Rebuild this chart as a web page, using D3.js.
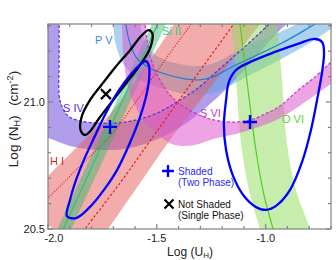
<!DOCTYPE html>
<html><head><meta charset="utf-8">
<script src="https://cdn.jsdelivr.net/npm/d3@7"></script>
<style>body{margin:0;background:#fff;} svg{display:block;font-family:"Liberation Sans",Arial,sans-serif;}</style>
</head><body><svg id="c" width="336" height="260"></svg>
<script>
// ---- data (log U_H, log N_H) ----
const xTickValues = [-2.0, -1.5, -1.0];
const xTickLabels = ["-2.0", "-1.5", "-1.0"];
const yTickValues = [20.5, 21.0];
const yTickLabels = ["20.5", "21.0"];
const xMinor = [-2.0,-1.9,-1.8,-1.7,-1.6,-1.5,-1.4,-1.3,-1.2,-1.1,-1.0,-0.9,-0.8,-0.7];
const yMinor = [20.5,20.6,20.7,20.8,20.9,21.0,21.1,21.2,21.3];

const sivLine = [[-1.949,21.441],[-1.949,21.165],[-1.949,21.028],[-1.940,20.992],[-1.908,20.945],[-1.848,20.925],[-1.770,20.917],[-1.692,20.917],[-1.619,20.925],[-1.531,20.945],[-1.463,20.972],[-1.394,21.008],[-1.311,21.055],[-1.233,21.114],[-1.155,21.173],[-1.072,21.236],[-0.989,21.303],[-0.911,21.370]];
const sivOuter = [[-2.083,21.441],[-2.083,20.874],[-2.0,20.858],[-1.899,20.827],[-1.761,20.811],[-1.623,20.819],[-1.486,20.858],[-1.371,20.913],[-1.256,20.992],[-1.141,21.087],[-1.026,21.197],[-0.934,21.283],[-0.879,21.331],[-0.842,21.441]];

const pvLine = [[-1.651,21.421],[-1.642,21.307],[-1.628,21.244],[-1.596,21.177],[-1.541,21.138],[-1.463,21.110],[-1.371,21.091],[-1.302,21.087],[-1.233,21.102],[-1.164,21.134],[-1.049,21.181],[-0.934,21.228],[-0.842,21.272],[-0.774,21.307],[-0.659,21.370]];
const pvInner = [[-1.587,21.421],[-1.577,21.307],[-1.559,21.252],[-1.531,21.205],[-1.463,21.165],[-1.371,21.146],[-1.302,21.142],[-1.233,21.154],[-1.164,21.185],[-1.049,21.232],[-0.934,21.276],[-0.842,21.315],[-0.774,21.362]];
const pvOuter = [[-1.711,21.421],[-1.701,21.307],[-1.688,21.224],[-1.651,21.146],[-1.577,21.087],[-1.463,21.051],[-1.371,21.031],[-1.302,21.028],[-1.219,21.039],[-1.141,21.075],[-1.026,21.126],[-0.911,21.177],[-0.806,21.228],[-0.728,21.272],[-0.636,21.323]];

const hiLineA = [[-2.083,20.555],[-2.0,20.622],[-1.853,20.748],[-1.715,20.866],[-1.577,21.024],[-1.463,21.165],[-1.343,21.307],[-1.302,21.362]];
const hiLineB = [[-1.899,20.417],[-1.830,20.500],[-1.669,20.681],[-1.541,20.835],[-1.417,20.984],[-1.279,21.150],[-1.150,21.303],[-1.095,21.370]];
const hiUpper = [[-2.129,20.594],[-2.0,20.709],[-1.853,20.835],[-1.715,20.953],[-1.577,21.110],[-1.463,21.252],[-1.394,21.343]];
const hiLower = [[-1.807,20.398],[-1.724,20.500],[-1.577,20.681],[-1.430,20.862],[-1.256,21.055],[-1.026,21.307],[-0.980,21.362]];

const siiiLine = [[-1.945,20.472],[-1.472,21.350]];
const siiiLeft = [[-1.972,20.472],[-1.499,21.350]];
const siiiRight = [[-1.908,20.472],[-1.435,21.350]];

const oviLine = [[-1.127,21.362],[-1.118,21.307],[-1.081,21.047],[-1.045,20.811],[-1.008,20.634],[-0.966,20.500],[-0.953,20.457]];
const oviLeft = [[-1.173,21.362],[-1.159,21.307],[-1.136,21.087],[-1.113,20.835],[-1.077,20.654],[-1.026,20.500],[-1.012,20.457]];
const oviRight = [[-0.957,21.362],[-0.948,21.307],[-0.925,21.087],[-0.902,20.835],[-0.861,20.654],[-0.796,20.500],[-0.783,20.457]];

const svLine = [[-1.554,21.421],[-1.554,21.307],[-1.541,21.224],[-1.518,21.146],[-1.486,21.087],[-1.440,21.028],[-1.394,20.992],[-1.325,20.957],[-1.256,20.933],[-1.164,20.921],[-1.072,20.929],[-1.003,20.953],[-0.934,20.984],[-0.856,21.043],[-0.774,21.098],[-0.700,21.157],[-0.636,21.205]];
const svOuter = [[-1.660,21.421],[-1.660,21.307],[-1.652,21.165],[-1.622,21.028],[-1.562,20.930],[-1.490,20.866],[-1.417,20.831],[-1.325,20.831],[-1.233,20.856],[-1.104,20.882],[-0.948,20.930],[-0.819,21.000],[-0.700,21.072],[-0.636,21.110]];

const twoPhaseA = [[-1.913,20.551],[-1.899,20.614],[-1.871,20.693],[-1.835,20.772],[-1.789,20.858],[-1.734,20.957],[-1.674,21.047],[-1.614,21.114],[-1.573,21.150],[-1.550,21.161],[-1.536,21.142],[-1.536,21.087],[-1.550,21.020],[-1.582,20.929],[-1.628,20.831],[-1.683,20.732],[-1.743,20.654],[-1.807,20.587],[-1.871,20.543]];
const twoPhaseB = [[-1.182,21.008],[-1.169,21.079],[-1.136,21.126],[-1.072,21.157],[-0.957,21.197],[-0.842,21.232],[-0.774,21.248],[-0.741,21.236],[-0.732,21.197],[-0.741,21.118],[-0.764,21.008],[-0.792,20.890],[-0.833,20.764],[-0.888,20.654],[-0.948,20.594],[-0.999,20.575],[-1.045,20.587],[-1.100,20.630],[-1.150,20.709],[-1.182,20.811],[-1.192,20.909]];
const singlePhase = [[-1.850,20.888],[-1.845,20.943],[-1.808,21.006],[-1.753,21.069],[-1.688,21.140],[-1.624,21.203],[-1.574,21.258],[-1.538,21.283],[-1.520,21.268],[-1.531,21.212],[-1.572,21.152],[-1.641,21.074],[-1.705,21.003],[-1.765,20.936],[-1.806,20.885],[-1.830,20.870]];

const shadedPoints = [[-1.715,20.902],[-1.072,20.921]];
const notShadedPoints = [[-1.734,21.031]];

const ionNames = ["P V","S IV","Si II","H I","S VI","O VI"];
const legendLabels = ["Shaded","(Two Phase)","Not Shaded","(Single Phase)"];

// ---- drawing ----
const svg = d3.select("#c");
const x = d3.scaleLinear().domain([-2.0,-0.7]).range([48,331]);
const y = d3.scaleLinear().domain([20.5,21.307]).range([229,24]);

svg.append("defs").append("clipPath").attr("id","pc").append("rect")
  .attr("x",48).attr("y",24).attr("width",283).attr("height",205);
const g = svg.append("g").attr("clip-path","url(#pc)");

const ln = d3.line().x(d=>x(d[0])).y(d=>y(d[1])).curve(d3.curveCatmullRom);
const lnClosed = d3.line().x(d=>x(d[0])).y(d=>y(d[1])).curve(d3.curveCatmullRomClosed);
function band(a,b){ return ln(a) + ln(b.slice().reverse()).replace(/^M/,"L") + "Z"; }

g.append("path").attr("d",band(sivLine,sivOuter)).attr("fill","#7b5ce0").attr("fill-opacity",0.6);
g.append("path").attr("d",band(pvInner,pvOuter)).attr("fill","#5aa5e0").attr("fill-opacity",0.5);
g.append("path").attr("d",band(hiUpper,hiLower)).attr("fill","#e85a5a").attr("fill-opacity",0.5);
g.append("path").attr("d",band(siiiLeft,siiiRight)).attr("fill","#2fb86a").attr("fill-opacity",0.45);
g.append("path").attr("d",band(oviLeft,oviRight)).attr("fill","#8fdc5a").attr("fill-opacity",0.5);
g.append("path").attr("d",band(svLine,svOuter)).attr("fill","#dc5ad0").attr("fill-opacity",0.55);

function curve(data,color,dash){
  g.append("path").attr("d",ln(data)).attr("fill","none").attr("stroke",color)
   .attr("stroke-width",1.2).attr("stroke-dasharray",dash||null);
}
curve(sivLine,"#5b2ee0","3,2");
curve(pvLine,"#1f7fd0");
curve(hiLineA,"#e02020","1,1.6");
curve(hiLineB,"#e02020","2.5,2");
curve(siiiLine,"#20c878");
curve(oviLine,"#55cc22");
curve(svLine,"#d030c8","3,2");

g.append("path").attr("d",lnClosed(singlePhase)).attr("fill","none").attr("stroke","#000").attr("stroke-width",2.3);
g.append("path").attr("d",lnClosed(twoPhaseA)).attr("fill","none").attr("stroke","#0000ff").attr("stroke-width",2.3);
g.append("path").attr("d",lnClosed(twoPhaseB)).attr("fill","none").attr("stroke","#0000ff").attr("stroke-width",2.3);

function plus(cx,cy,s,c){
  svg.append("path").attr("d",`M${cx-s},${cy}H${cx+s}M${cx},${cy-s}V${cy+s}`).attr("stroke",c).attr("stroke-width",2.4).attr("fill","none");
}
function cross(cx,cy,s,c){
  svg.append("path").attr("d",`M${cx-s},${cy-s}L${cx+s},${cy+s}M${cx-s},${cy+s}L${cx+s},${cy-s}`).attr("stroke",c).attr("stroke-width",2.2).attr("fill","none");
}
shadedPoints.forEach(p=>plus(x(p[0]),y(p[1]),7,"#0000ff"));
notShadedPoints.forEach(p=>cross(x(p[0]),y(p[1]),5,"#000"));

// frame and ticks
const ax = svg.append("g").attr("stroke","#808080").attr("stroke-width",1.2).attr("fill","none");
ax.append("rect").attr("x",48).attr("y",24).attr("width",283).attr("height",205);
xMinor.forEach(v=>{
  const L = xTickValues.some(t=>Math.abs(t-v)<1e-6)?5:3;
  ax.append("line").attr("x1",x(v)).attr("x2",x(v)).attr("y1",229).attr("y2",229-L);
  ax.append("line").attr("x1",x(v)).attr("x2",x(v)).attr("y1",24).attr("y2",24+L);
});
yMinor.forEach(v=>{
  const L = yTickValues.some(t=>Math.abs(t-v)<1e-6)?5:3;
  ax.append("line").attr("y1",y(v)).attr("y2",y(v)).attr("x1",48).attr("x2",48+L);
  ax.append("line").attr("y1",y(v)).attr("y2",y(v)).attr("x1",331).attr("x2",331-L);
});
xTickValues.forEach((v,i)=>{
  svg.append("text").attr("x",x(v)+(i===0?6:0)).attr("y",242).attr("text-anchor","middle")
    .attr("font-size",11).attr("fill","#222").text(xTickLabels[i]);
});
yTickValues.forEach((v,i)=>{
  svg.append("text").attr("x",45).attr("y",y(v)+4).attr("text-anchor","end")
    .attr("font-size",11).attr("fill","#222").text(yTickLabels[i]);
});

// axis titles
const xt = svg.append("text").attr("x",190).attr("y",256).attr("text-anchor","middle").attr("font-size",12).attr("fill","#222");
xt.append("tspan").text("Log (U");
xt.append("tspan").attr("font-size",8).attr("dy",2).text("H");
xt.append("tspan").attr("dy",-2).text(")");
const yt = svg.append("text").attr("transform","translate(18,119) rotate(-90)").attr("text-anchor","middle").attr("font-size",13.5).attr("fill","#222");
yt.append("tspan").text("Log (N");
yt.append("tspan").attr("font-size",9).attr("dy",2).text("H");
yt.append("tspan").attr("dy",-2).text(")");
yt.append("tspan").attr("dx",6).text(" (cm");
yt.append("tspan").attr("font-size",9).attr("dy",-5).text("-2");
yt.append("tspan").attr("dy",5).text(")");

// ion labels
const ionPos = [[95,44,"#3a8cd6"],[63,112,"#5a2fd0"],[162,35,"#30d080"],[50,165,"#e02020"],[200,117,"#c83ac0"],[282,123,"#66cc33"]];
ionNames.forEach((t,i)=>{
  svg.append("text").attr("x",ionPos[i][0]).attr("y",ionPos[i][1]).attr("font-size",11)
    .attr("fill",ionPos[i][2]).text(t);
});

// legend
plus(168,171,6,"#0000ff");
cross(169,204,4.5,"#000");
const lg = [[178,175,"#2a2aff"],[178,186,"#2a2aff"],[178,208,"#111"],[178,219,"#111"]];
legendLabels.forEach((t,i)=>{
  svg.append("text").attr("x",lg[i][0]).attr("y",lg[i][1]).attr("font-size",10).attr("fill",lg[i][2]).text(t);
});
</script>
</body></html>
